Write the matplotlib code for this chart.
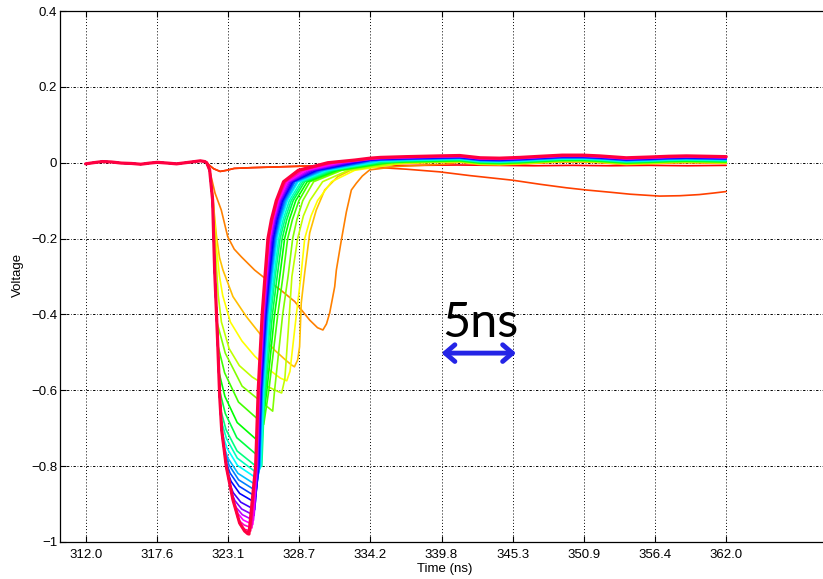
import numpy as np
import matplotlib
matplotlib.use("Agg")
import matplotlib.pyplot as plt
from matplotlib.colors import hsv_to_rgb

# ---- axis ticks ----
x_ticks = np.linspace(312.0, 362.0, 10)
x_tick_labels = ["312.0", "317.6", "323.1", "328.7", "334.2",
                 "339.8", "345.3", "350.9", "356.4", "362.0"]
y_ticks = [-1.0, -0.8, -0.6, -0.4, -0.2, 0.0, 0.2, 0.4]
y_tick_labels = ["\u22121", "\u22120.8", "\u22120.6", "\u22120.4", "\u22120.2", "0", "0.2", "0.4"]

# ---- shared pre-pulse baseline (ns, V) ----
base_t = [312.0, 312.6, 313.3, 314.0, 314.8, 315.6, 316.3, 317.0, 317.6, 318.4,
          319.1, 319.8, 320.5, 320.95, 321.3, 321.45]
base_v = [-0.003, 0.0, 0.003, 0.002, -0.001, -0.002, -0.004, -0.001, 0.001, -0.001,
          -0.003, 0.0, 0.003, 0.005, 0.003, 0.0]

# ---- leading edge of the deepest pulse ----
edge_t = [321.68, 321.91, 322.07, 322.30, 322.46, 322.62, 322.98, 323.50, 324.02, 324.41]
edge_v = [-0.019, -0.098, -0.283, -0.468, -0.613, -0.705, -0.801, -0.889, -0.950, -0.971]

# ---- post-pulse baseline of the top trace ----
tail_t = [331.0, 333.0, 334.2, 335.0, 337.0, 339.6, 341.2, 342.8, 344.3, 345.9,
          347.5, 349.2, 350.8, 352.1, 354.2, 356.0, 357.5, 358.9, 360.5, 362.0]
tail_v = [0.0, 0.007, 0.012, 0.014, 0.016, 0.018, 0.019, 0.013, 0.012, 0.014,
          0.017, 0.020, 0.020, 0.018, 0.013, 0.015, 0.017, 0.018, 0.017, 0.016]

# ---- trace 0: no pulse (flat) ----
flat_t = [321.7, 322.0, 322.5, 323.0, 323.6, 325.0, 327.0, 329.0, 332.0, 335.0,
          338.0, 341.0, 344.0, 347.0, 350.0, 353.0, 356.0, 359.0, 362.0]
flat_v = [-0.008, -0.016, -0.023, -0.020, -0.015, -0.013, -0.011, -0.009, -0.008, -0.008,
          -0.007, -0.006, -0.007, -0.008, -0.007, -0.008, -0.007, -0.008, -0.007]

# ---- trace 1: slow droop ----
droop_t = [321.7, 322.0, 322.5, 323.0, 323.6, 325.0, 327.0, 329.0, 331.0, 333.0,
           335.0, 337.0, 339.6, 342.0, 345.3, 347.5, 349.5, 351.1, 353.0, 354.5,
           356.8, 358.4, 359.9, 361.0, 362.0]
droop_v = [-0.008, -0.016, -0.023, -0.020, -0.015, -0.013, -0.011, -0.009, -0.008, -0.010,
           -0.013, -0.017, -0.024, -0.034, -0.046, -0.057, -0.066, -0.072, -0.078, -0.083,
           -0.088, -0.087, -0.084, -0.080, -0.076]

# ---- traces 2-5: small pulses (full outlines) ----
orange_t = [321.75, 322.1, 322.59, 323.09, 323.6, 324.15, 325.19, 325.97, 327.2, 328.32,
            329.49, 330.1, 330.52, 330.8, 331.05, 331.44, 331.57, 331.96, 332.35, 332.74,
            333.13, 333.6, 334.17, 336.25, 340.0]
orange_v = [-0.03, -0.08, -0.125, -0.195, -0.228, -0.248, -0.283, -0.304, -0.335, -0.366,
            -0.415, -0.435, -0.441, -0.425, -0.396, -0.327, -0.283, -0.204, -0.13, -0.072,
            -0.054, -0.035, -0.019, -0.01, -0.004]

gold_t = [321.7, 321.95, 322.2, 322.45, 322.72, 323.5, 324.55, 325.58, 326.75, 327.6,
          328.06, 328.3, 328.55, 328.7, 328.83, 329.1, 329.49, 330.0, 330.66, 331.67,
          332.74, 334.5, 337.0]
gold_v = [-0.02, -0.10, -0.19, -0.25, -0.283, -0.353, -0.406, -0.45, -0.494, -0.52,
          -0.533, -0.538, -0.52, -0.485, -0.37, -0.29, -0.185, -0.125, -0.072, -0.037,
          -0.019, -0.008, -0.002]

yellow_t = [321.7, 321.95, 322.2, 322.45, 322.7, 323.3, 324.2, 325.2, 326.3, 327.2,
            327.7, 327.95, 328.15, 328.45, 328.8, 329.1, 329.6, 330.1, 331.2, 333.0, 336.0]
yellow_v = [-0.02, -0.10, -0.22, -0.30, -0.35, -0.42, -0.47, -0.51, -0.545, -0.568,
            -0.575, -0.55, -0.49, -0.40, -0.30, -0.20, -0.14, -0.10, -0.05, -0.02, -0.005]

lime_t = [321.7, 321.95, 322.15, 322.35, 322.6, 323.2, 324.0, 325.0, 326.2, 327.0,
          327.3, 327.55, 327.8, 328.1, 328.55, 329.0, 329.5, 330.5, 332.5, 336.0]
lime_v = [-0.02, -0.10, -0.24, -0.35, -0.42, -0.49, -0.535, -0.565, -0.59, -0.603,
          -0.607, -0.57, -0.45, -0.30, -0.20, -0.14, -0.10, -0.05, -0.02, -0.004]

# ---- traces 6-23: large pulses ----
knee_t = [322.25, 322.31, 322.39, 322.45, 322.53, 322.58, 322.63, 322.72, 322.82,
          322.92, 323.02, 323.22, 323.38, 323.51, 323.68, 323.86, 324.08, 324.41]
knee_v = [-0.42, -0.48, -0.55, -0.60, -0.65, -0.68, -0.71, -0.74, -0.76,
          -0.785, -0.81, -0.845, -0.87, -0.89, -0.91, -0.935, -0.955, -0.971]
sag1_t = [322.90, 322.85, 322.87, 322.90, 322.96, 323.00, 323.04, 323.11, 323.19,
          323.27, 323.35, 323.52, 323.65, 323.75, 323.89, 324.03, 324.20, 324.55]
sag1_v = [-0.502, -0.554, -0.616, -0.661, -0.704, -0.728, -0.753, -0.779, -0.797,
          -0.818, -0.840, -0.870, -0.891, -0.909, -0.925, -0.945, -0.961, -0.975]
sag2_t = [324.21, 323.93, 323.83, 323.80, 323.82, 323.84, 323.85, 323.89, 323.94,
          323.98, 324.02, 324.11, 324.18, 324.23, 324.30, 324.36, 324.44, 324.65]
sag2_v = [-0.589, -0.631, -0.685, -0.725, -0.760, -0.779, -0.798, -0.819, -0.836,
          -0.853, -0.872, -0.895, -0.913, -0.928, -0.942, -0.955, -0.967, -0.978]
dip_t = [326.6, 325.9, 325.6, 325.45, 325.4, 325.37, 325.35, 325.32, 325.3,
         325.27, 325.24, 325.2, 325.15, 325.1, 325.05, 324.98, 324.88, 324.75]
dip_v = [-0.655, -0.690, -0.738, -0.773, -0.803, -0.818, -0.832, -0.850, -0.865,
         -0.880, -0.896, -0.915, -0.930, -0.943, -0.954, -0.963, -0.971, -0.979]

# recovery: time at which each trace crosses these levels on the way back up
rise_levels = [-0.8, -0.6, -0.4, -0.3, -0.2, -0.15, -0.1, -0.05, -0.02, 0.0]
nan = float("nan")
rise_t = [
    [nan, 326.75, 327.38, 327.80, 328.16, 328.49, 328.95, 329.80, 332.0, 336.0],
    [nan, 326.30, 327.00, 327.40, 327.77, 328.14, 328.65, 329.50, 331.8, 335.7],
    [nan, 326.15, 326.75, 327.15, 327.53, 327.90, 328.40, 329.30, 331.6, 335.4],
    [nan, 326.05, 326.58, 326.95, 327.34, 327.70, 328.20, 329.10, 331.4, 335.1],
    [325.75, 325.98, 326.45, 326.80, 327.18, 327.55, 328.05, 328.95, 331.2, 334.8],
    [325.70, 325.92, 326.36, 326.70, 327.07, 327.42, 327.90, 328.80, 331.0, 334.5],
    [325.65, 325.87, 326.28, 326.60, 326.95, 327.29, 327.75, 328.60, 330.8, 334.2],
    [325.60, 325.82, 326.22, 326.52, 326.87, 327.20, 327.65, 328.50, 330.6, 333.9],
    [325.56, 325.77, 326.16, 326.45, 326.79, 327.11, 327.55, 328.35, 330.4, 333.6],
    [325.53, 325.73, 326.10, 326.38, 326.72, 327.03, 327.45, 328.25, 330.2, 333.3],
    [325.50, 325.69, 326.05, 326.32, 326.64, 326.94, 327.36, 328.15, 330.0, 333.0],
    [325.46, 325.65, 326.00, 326.26, 326.56, 326.86, 327.28, 328.05, 329.8, 332.7],
    [325.42, 325.61, 325.95, 326.20, 326.48, 326.78, 327.20, 327.95, 329.6, 332.4],
    [325.38, 325.57, 325.91, 326.15, 326.43, 326.72, 327.13, 327.85, 329.4, 332.1],
    [325.34, 325.54, 325.87, 326.10, 326.36, 326.65, 327.06, 327.75, 329.2, 331.8],
    [325.31, 325.51, 325.84, 326.07, 326.32, 326.61, 327.00, 327.65, 329.0, 331.5],
    [325.29, 325.49, 325.81, 326.04, 326.29, 326.57, 326.95, 327.55, 328.8, 331.2],
    [325.27, 325.47, 325.78, 326.00, 326.23, 326.50, 326.88, 327.45, 328.6, 330.9],
]

# baseline shift of each pulse trace (2..23) relative to the top trace after recovery
tail_offset = [-0.018, -0.017, -0.016, -0.016, -0.015, -0.014, -0.013, -0.012, -0.011,
               -0.010, -0.009, -0.008, -0.007, -0.006, -0.005, -0.004, -0.003, -0.003,
               -0.002, -0.001, -0.001, 0.0]

# scale-bar annotation
bar_start, bar_end, bar_level = 339.77, 345.6, -0.502
bar_text = "5ns"

n_traces = 24
colors = [hsv_to_rgb((k / n_traces, 1.0, 1.0)) for k in range(n_traces)]


def with_tail(ts, vs, offset):
    ts, vs = list(ts), list(vs)
    last = ts[-1]
    for t, v in zip(tail_t, tail_v):
        if t > last + 0.3:
            ts.append(t)
            vs.append(v + offset)
    return ts, vs


traces = []
traces.append((base_t + flat_t, base_v + flat_v))
traces.append((base_t + droop_t, base_v + droop_v))
for i, (pt, pv) in enumerate([(orange_t, orange_v), (gold_t, gold_v),
                              (yellow_t, yellow_v), (lime_t, lime_v)]):
    traces.append(with_tail(base_t + pt, base_v + pv, tail_offset[i]))
for j in range(len(dip_t)):
    ts = list(base_t)
    vs = list(base_v)
    for t, v in zip(edge_t, edge_v):
        if v > knee_v[j]:
            ts.append(t)
            vs.append(v)
    ts += [knee_t[j], sag1_t[j], sag2_t[j], dip_t[j]]
    vs += [knee_v[j], sag1_v[j], sag2_v[j], dip_v[j]]
    for lev, t in zip(rise_levels, rise_t[j]):
        if lev > dip_v[j] and not np.isnan(t):
            ts.append(t)
            vs.append(lev)
    traces.append(with_tail(ts, vs, tail_offset[j + 4]))

plt.rcParams["font.family"] = ["Liberation Sans", "DejaVu Sans"]

W, H = 823, 579
fig = plt.figure(figsize=(W / 100, H / 100), dpi=100)
ax = fig.add_axes([60 / W, 37 / H, 770 / W, 531 / H])

for k, (ts, vs) in enumerate(traces):
    lw = 2.3 if k == n_traces - 1 else 1.2
    ax.plot(ts, vs, color=colors[k], lw=lw, solid_joinstyle="round",
            solid_capstyle="round", zorder=3 + k * 0.01)

ax.set_xlim(310.0, 370.1)
ax.set_ylim(-1.0, 0.4)
ax.set_xticks(x_ticks)
ax.set_xticklabels(x_tick_labels)
ax.set_yticks(y_ticks)
ax.set_yticklabels(y_tick_labels)
ax.tick_params(direction="in", length=4, width=0.8, top=True, right=True,
               labelsize=9.5, colors="black")
ax.tick_params(axis="x", pad=5)
ax.tick_params(axis="y", pad=2)
for s in ax.spines.values():
    s.set_linewidth(0.9)

ax.xaxis.grid(True, color="black", lw=0.7, linestyle=(0, (1.0, 2.2)))
ax.yaxis.grid(True, color="black", lw=0.7, linestyle=(0, (2.4, 1.8, 0.7, 1.8)))
ax.set_axisbelow(True)

fig.text(445 / W, 1 - 569 / H, "Time (ns)", ha="center", va="center", fontsize=9.5)
fig.text(18 / W, 1 - 275 / H, "Voltage", ha="center", va="center", rotation=90, fontsize=9.5)

ax.annotate("", xy=(bar_end, bar_level), xytext=(bar_start, bar_level),
            arrowprops=dict(arrowstyle="<->,head_length=0.7,head_width=0.6",
                            color="#2424e6", lw=3.5, shrinkA=0, shrinkB=0), zorder=10)
ax.text((bar_start + bar_end) / 2 + 0.1, -0.459, bar_text, ha="center", va="baseline",
        fontsize=35, family=["Lato", "DejaVu Sans"], color="black", zorder=10)

fig.savefig("out.png", dpi=100)
